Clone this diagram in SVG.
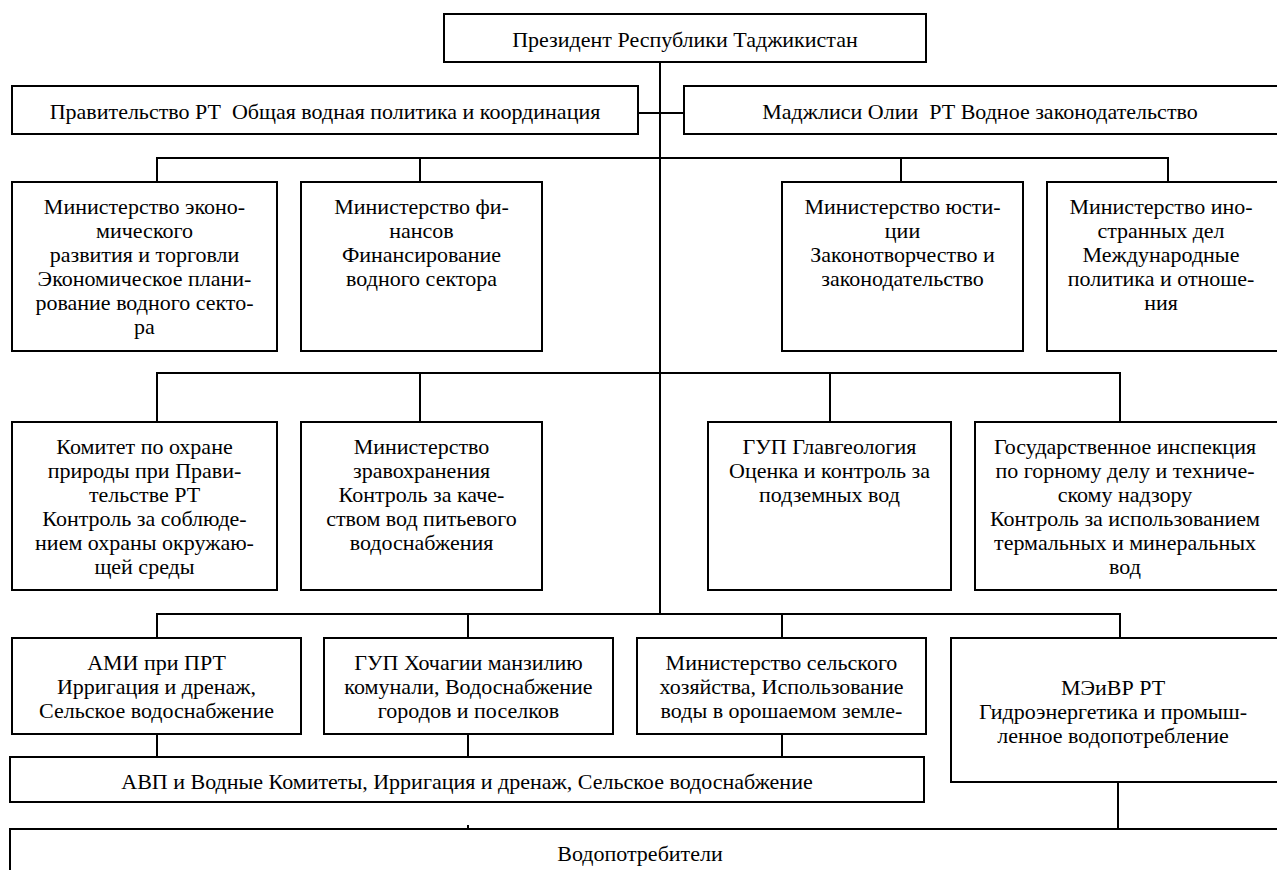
<svg xmlns="http://www.w3.org/2000/svg" width="1277" height="870" viewBox="0 0 1277 870">
<style>
.box{fill:#fff;stroke:#000;stroke-width:2}
.t{font-family:"Liberation Serif","Times New Roman",serif;font-size:22px;text-anchor:middle;fill:#000}
.c{stroke:#000;stroke-width:2;fill:none}
</style>
<rect width="1277" height="870" fill="#fff"/>
<g id="connectors" class="c">
<path d="M660 62V614"/>
<path d="M638 113H684"/>
<path d="M157 182V158H1168V182M420 158V182M901 158V182"/>
<path d="M157 422V373H1120V422M420 373V422M830 373V422"/>
<path d="M157 638V614H1120V638M468 614V638M782 614V638"/>
<path d="M157 734V757M468 734V757M782 734V757M1118 782V829"/>
<path d="M468 825V829"/>
</g>
<g id="president"><rect class="box" x="444" y="14" width="482" height="48"/><text class="t" x="685" y="47">Президент Республики Таджикистан</text></g>
<g id="government"><rect class="box" x="12" y="86" width="626" height="48"/><text class="t" x="325" y="119" xml:space="preserve">Правительство РТ  Общая водная политика и координация</text></g>
<g id="majlisi"><rect class="box" x="684" y="86" width="600" height="48"/><text class="t" x="980" y="119" xml:space="preserve">Маджлиси Олии  РТ Водное законодательство</text></g>
<g id="min-econ"><rect class="box" x="12" y="182" width="265" height="169"/><text class="t" y="214"><tspan x="144.5">Министерство эконо-</tspan><tspan x="144.5" dy="24">мического</tspan><tspan x="144.5" dy="24">развития и торговли</tspan><tspan x="144.5" dy="24">Экономическое плани-</tspan><tspan x="144.5" dy="24">рование водного секто-</tspan><tspan x="144.5" dy="24">ра</tspan></text></g>
<g id="min-fin"><rect class="box" x="301" y="182" width="241" height="169"/><text class="t" y="214"><tspan x="421.5">Министерство фи-</tspan><tspan x="421.5" dy="24">нансов</tspan><tspan x="421.5" dy="24">Финансирование</tspan><tspan x="421.5" dy="24">водного сектора</tspan></text></g>
<g id="min-just"><rect class="box" x="782" y="182" width="241" height="169"/><text class="t" y="214"><tspan x="902.5">Министерство юсти-</tspan><tspan x="902.5" dy="24">ции</tspan><tspan x="902.5" dy="24">Законотворчество и</tspan><tspan x="902.5" dy="24">законодательство</tspan></text></g>
<g id="min-foreign"><rect class="box" x="1047" y="182" width="240" height="169"/><text class="t" y="214"><tspan x="1161">Министерство ино-</tspan><tspan x="1161" dy="24">странных дел</tspan><tspan x="1161" dy="24">Международные</tspan><tspan x="1161" dy="24">политика и отноше-</tspan><tspan x="1161" dy="24">ния</tspan></text></g>
<g id="nature"><rect class="box" x="12" y="422" width="265" height="168"/><text class="t" y="454"><tspan x="144.5">Комитет по охране</tspan><tspan x="144.5" dy="24">природы при Прави-</tspan><tspan x="144.5" dy="24">тельстве РТ</tspan><tspan x="144.5" dy="24">Контроль за соблюде-</tspan><tspan x="144.5" dy="24">нием охраны окружаю-</tspan><tspan x="144.5" dy="24">щей среды</tspan></text></g>
<g id="health"><rect class="box" x="301" y="422" width="241" height="168"/><text class="t" y="454"><tspan x="421.5">Министерство</tspan><tspan x="421.5" dy="24">зравохранения</tspan><tspan x="421.5" dy="24">Контроль за каче-</tspan><tspan x="421.5" dy="24">ством вод питьевого</tspan><tspan x="421.5" dy="24">водоснабжения</tspan></text></g>
<g id="geology"><rect class="box" x="708" y="422" width="243" height="168"/><text class="t" y="454"><tspan x="829.5">ГУП Главгеология</tspan><tspan x="829.5" dy="24">Оценка и контроль за</tspan><tspan x="829.5" dy="24">подземных вод</tspan></text></g>
<g id="inspection"><rect class="box" x="975" y="422" width="312" height="168"/><text class="t" y="454"><tspan x="1125">Государственное инспекция</tspan><tspan x="1125" dy="24">по горному делу и техниче-</tspan><tspan x="1125" dy="24">скому надзору</tspan><tspan x="1125" dy="24">Контроль за использованием</tspan><tspan x="1125" dy="24">термальных и минеральных</tspan><tspan x="1125" dy="24">вод</tspan></text></g>
<g id="ami"><rect class="box" x="12" y="638" width="289" height="96"/><text class="t" y="670"><tspan x="156.5">АМИ при ПРТ</tspan><tspan x="156.5" dy="24">Ирригация и дренаж,</tspan><tspan x="156.5" dy="24">Сельское водоснабжение</tspan></text></g>
<g id="communal"><rect class="box" x="324" y="638" width="289" height="96"/><text class="t" y="670"><tspan x="468.5">ГУП Хочагии манзилию</tspan><tspan x="468.5" dy="24">комунали, Водоснабжение</tspan><tspan x="468.5" dy="24">городов и поселков</tspan></text></g>
<g id="agriculture"><rect class="box" x="637" y="638" width="289" height="96"/><text class="t" y="670"><tspan x="781.5">Министерство сельского</tspan><tspan x="781.5" dy="24">хозяйства, Использование</tspan><tspan x="781.5" dy="24">воды в орошаемом земле-</tspan></text></g>
<g id="energy"><rect class="box" x="951" y="638" width="336" height="144"/><text class="t" y="695"><tspan x="1113">МЭиВР РТ</tspan><tspan x="1113" dy="24">Гидроэнергетика и промыш-</tspan><tspan x="1113" dy="24">ленное водопотребление</tspan></text></g>
<g id="avp"><rect class="box" x="10" y="757" width="914" height="45"/><text class="t" x="467" y="789">АВП и Водные Комитеты, Ирригация и дренаж, Сельское водоснабжение</text></g>
<g id="consumers"><rect class="box" x="10" y="829" width="1277" height="60"/><text class="t" x="640" y="861">Водопотребители</text></g>
</svg>
